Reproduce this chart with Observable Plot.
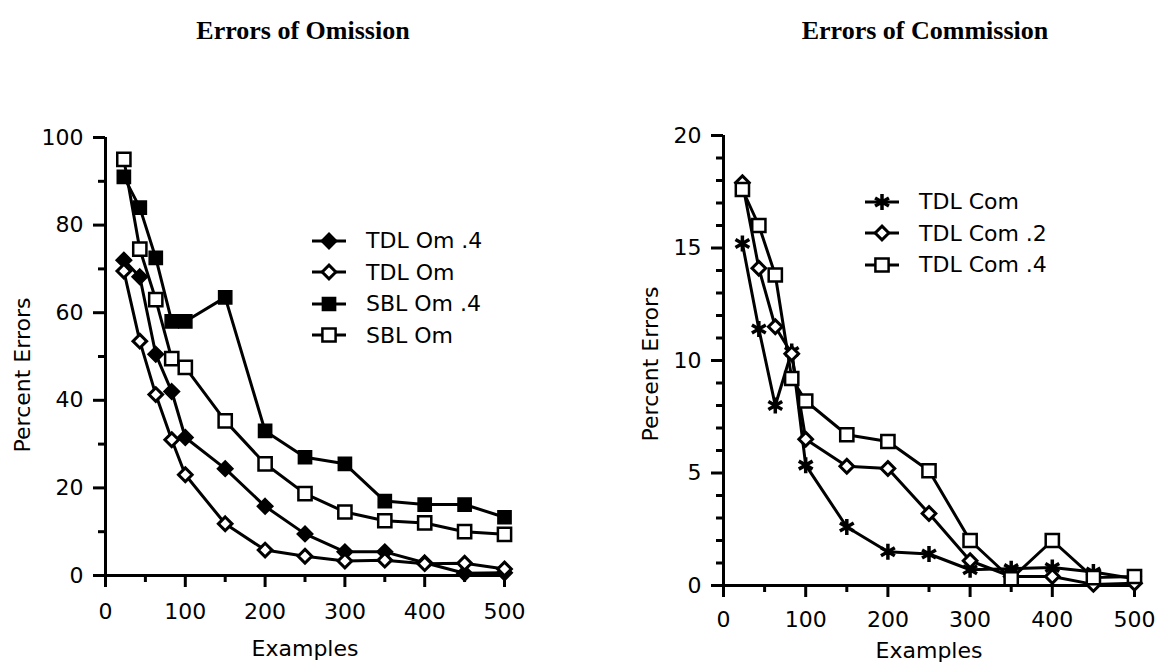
<!DOCTYPE html>
<html>
<head>
<meta charset="utf-8">
<script src="https://cdn.jsdelivr.net/npm/d3@7"></script>
<script src="https://cdn.jsdelivr.net/npm/@observablehq/plot@0.6"></script>
<style>
  body { margin: 0; background: #fff; }
  #page { position: relative; width: 1162px; height: 671px; overflow: hidden; background: #fff; }
  .title { position: absolute; top: 16px; font-family: "Liberation Serif", serif; font-weight: bold; font-size: 26px; color: #000; transform: translateX(-50%); white-space: nowrap; }
  .chart { position: absolute; top: 0; }
  .ylab { position: absolute; font-family: "DejaVu Sans", sans-serif; font-size: 22px; color: #000; white-space: nowrap; transform: translate(-50%, -50%) rotate(-90deg); }
  .legend { position: absolute; font-family: "DejaVu Sans", sans-serif; font-size: 22px; color: #000; }
  .legend .row { display: flex; align-items: center; height: 31.5px; }
  .legend svg { margin-right: 20px; }
  svg [aria-label$="tick"] { stroke-width: 3px; }
</style>
</head>
<body>
<div id="page">
  <div class="title" style="left:303px">Errors of Omission</div>
  <div class="title" style="left:925px">Errors of Commission</div>
  <div class="chart" id="left" style="left:0px"></div>
  <div class="chart" id="right" style="left:600px"></div>
  <div class="ylab" style="left:22px; top:375px">Percent Errors</div>
  <div class="ylab" style="left:650px; top:364px">Percent Errors</div>
  <div class="legend" id="legendLeft" style="left:312px; top:225px"></div>
  <div class="legend" id="legendRight" style="left:865px; top:186px"></div>
</div>
<script>
// ---------- Data ----------
const examples = [23, 43, 63, 83, 100, 150, 200, 250, 300, 350, 400, 450, 500];

// Errors of Omission (percent)
const tdlOm4 = [72, 68.2, 50.5, 42, 31.5, 24.4, 15.8, 9.5, 5.4, 5.4, 2.9, 0.5, 0.6];
const tdlOm  = [69.5, 53.5, 41.3, 31, 23, 11.8, 5.8, 4.4, 3.3, 3.5, 2.7, 2.8, 1.5];
const sblOm4 = [91, 84, 72.5, 58, 58, 63.5, 33, 27, 25.5, 17, 16.2, 16.2, 13.3];
const sblOm  = [95, 74.5, 63, 49.5, 47.5, 35.3, 25.5, 18.7, 14.5, 12.5, 12, 10, 9.4];

// Errors of Commission (percent)
const tdlCom  = [15.2, 11.4, 8.0, 10.4, 5.35, 2.6, 1.5, 1.4, 0.7, 0.75, 0.8, 0.6, 0.3];
const tdlCom2 = [17.9, 14.1, 11.5, 10.3, 6.5, 5.3, 5.2, 3.2, 1.1, 0.4, 0.4, 0.05, 0.1];
const tdlCom4 = [17.6, 16.0, 13.8, 9.2, 8.2, 6.7, 6.4, 5.1, 2.0, 0.3, 2.0, 0.35, 0.4];

const omSeries  = ["TDL Om .4", "TDL Om", "SBL Om .4", "SBL Om"];
const comSeries = ["TDL Com", "TDL Com .2", "TDL Com .4"];

const xMajor = [0, 100, 200, 300, 400, 500];
const xMinor = [50, 150, 250, 350, 450];
const yMajorOm = [0, 20, 40, 60, 80, 100];
const yMinorOm = [10, 30, 50, 70, 90];
const yMajorCom = [0, 5, 10, 15, 20];
const yMinorCom = [1, 2, 3, 4, 6, 7, 8, 9, 11, 12, 13, 14, 16, 17, 18, 19];

// ---------- Symbols ----------
const rad = (size) => Math.sqrt(size / Math.PI);
const diamondSym = { draw(ctx, size) { const r = rad(size) * 1.05; ctx.moveTo(0, -r); ctx.lineTo(r, 0); ctx.lineTo(0, r); ctx.lineTo(-r, 0); ctx.closePath(); } };
const squareSym = { draw(ctx, size) { const s = rad(size) * 0.88; ctx.rect(-s, -s, 2 * s, 2 * s); } };
const starSym = { draw(ctx, size) {
  const r = rad(size);
  ctx.moveTo(0, -r); ctx.lineTo(0, r);
  const a = Math.PI / 6;
  ctx.moveTo(-r * Math.cos(a), -r * Math.sin(a)); ctx.lineTo(r * Math.cos(a), r * Math.sin(a));
  ctx.moveTo(-r * Math.cos(a), r * Math.sin(a)); ctx.lineTo(r * Math.cos(a), -r * Math.sin(a));
} };

const styles = {
  "TDL Om .4":  { symbol: diamondSym, fill: "black", r: 7.5, sw: 1.5 },
  "TDL Om":     { symbol: diamondSym, fill: "white", r: 6.5, sw: 3 },
  "SBL Om .4":  { symbol: squareSym,  fill: "black", r: 7.5, sw: 1.5 },
  "SBL Om":     { symbol: squareSym,  fill: "white", r: 7.5, sw: 2.5 },
  "TDL Com":    { symbol: starSym,    fill: "none",  r: 8,   sw: 3.5 },
  "TDL Com .2": { symbol: diamondSym, fill: "white", r: 6.5, sw: 3 },
  "TDL Com .4": { symbol: squareSym,  fill: "white", r: 7.5, sw: 2.5 }
};

function rows(names, arrays) {
  const out = [];
  names.forEach((n, i) => arrays[i].forEach((v, j) => out.push({ series: n, x: examples[j], y: v })));
  return out;
}

const omData = rows(omSeries, [tdlOm4, tdlOm, sblOm4, sblOm]);
const comData = rows(comSeries, [tdlCom, tdlCom2, tdlCom4]);

function chart({ data, names, yDomain, yMajor, yMinor, margins, width, xPad, xLabelOffset }) {
  const font = { fontSize: 22, fontFamily: "DejaVu Sans" };
  const dotMarks = names.map(n => {
    const s = styles[n];
    return Plot.dot(data.filter(d => d.series === n), {
      x: "x", y: "y", symbol: () => s.symbol, r: s.r,
      fill: s.fill, stroke: "black", strokeWidth: s.sw
    });
  });
  return Plot.plot({
    width, height: 671,
    ...margins,
    style: { fontFamily: "DejaVu Sans", fontSize: "22px", color: "black", background: "transparent" },
    x: { domain: [0, 500] },
    y: { domain: yDomain },
    marks: [
      Plot.axisY({ ticks: yMajor, tickSize: 12, tickPadding: 10, strokeWidth: 3, ...font, label: null }),
      Plot.axisY({ ticks: yMinor, tickSize: 7, strokeWidth: 3, tickFormat: () => "", label: null }),
      Plot.axisX({ ticks: xMajor, tickSize: 12, tickPadding: xPad, strokeWidth: 3, ...font, label: "Examples", labelAnchor: "center", labelArrow: "none", labelOffset: xLabelOffset }),
      Plot.axisX({ ticks: xMinor, tickSize: 7, strokeWidth: 3, tickFormat: () => "", label: null }),
      Plot.ruleX([0], { y1: yDomain[0], y2: yDomain[1], stroke: "black", strokeWidth: 3 }),
      Plot.ruleY([0], { x1: 0, x2: 500, stroke: "black", strokeWidth: 3 }),
      Plot.line(data, { x: "x", y: "y", z: "series", stroke: "black", strokeWidth: 3 }),
      ...dotMarks
    ]
  });
}

document.getElementById("left").append(chart({
  data: omData, names: omSeries, yDomain: [0, 100], yMajor: yMajorOm, yMinor: yMinorOm,
  margins: { marginLeft: 105, marginRight: 56, marginTop: 137, marginBottom: 96 }, width: 560,
  xPad: 16, xLabelOffset: 80
}));
document.getElementById("right").append(chart({
  data: comData, names: comSeries, yDomain: [0, 20], yMajor: yMajorCom, yMinor: yMinorCom,
  margins: { marginLeft: 123, marginRight: 28, marginTop: 135, marginBottom: 86 }, width: 562,
  xPad: 14, xLabelOffset: 72
}));

// ---------- Legends ----------
function legendSymbolPath(sym, r) {
  const p = d3.path();
  sym.draw(p, Math.PI * r * r);
  return p.toString();
}
function buildLegend(id, names) {
  const el = document.getElementById(id);
  names.forEach(n => {
    const s = styles[n];
    const row = document.createElement("div");
    row.className = "row";
    row.innerHTML = `<svg width="34" height="20" viewBox="0 0 34 20">
      <line x1="0" y1="10" x2="34" y2="10" stroke="black" stroke-width="3"/>
      <path transform="translate(17,10)" d="${legendSymbolPath(s.symbol, s.r)}" fill="${s.fill}" stroke="black" stroke-width="${s.sw}"/>
    </svg><span>${n}</span>`;
    el.append(row);
  });
}
buildLegend("legendLeft", omSeries);
buildLegend("legendRight", comSeries);
</script>
</body>
</html>
